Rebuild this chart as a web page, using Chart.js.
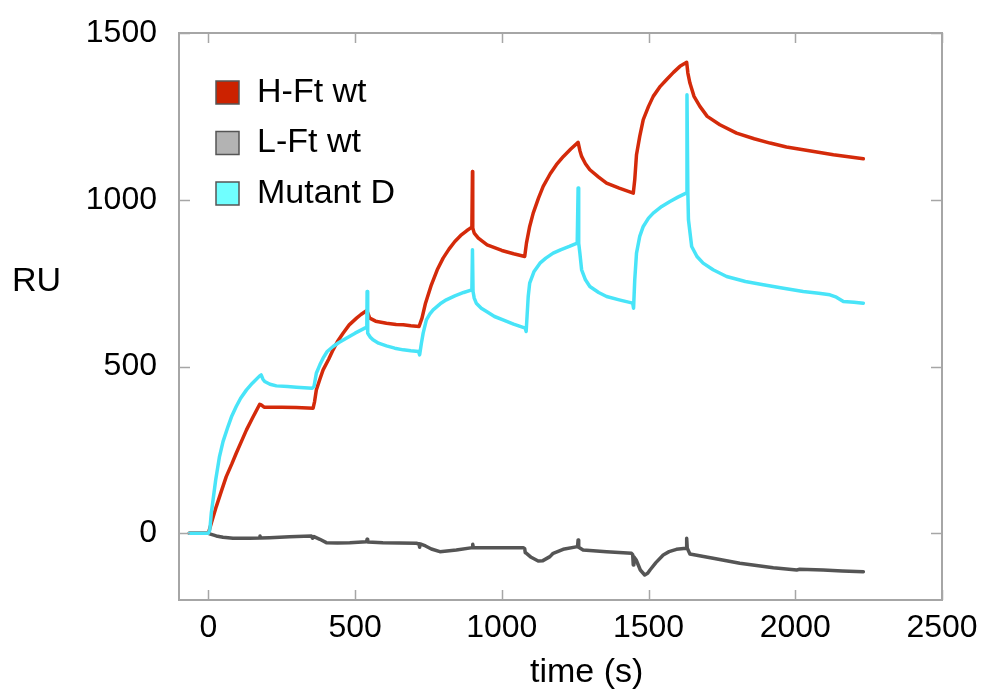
<!DOCTYPE html>
<html>
<head>
<meta charset="utf-8">
<script src="https://cdn.jsdelivr.net/npm/chart.js@4.4.1/dist/chart.umd.min.js"></script>
<style>
  html, body { margin: 0; padding: 0; background: #fff; }
  #wrap { width: 984px; height: 695px; }
</style>
</head>
<body>
<div id="wrap"><canvas id="chart" width="984" height="695"></canvas></div>
<script>
const X_TICKS = [0, 500, 1000, 1500, 2000, 2500];
const Y_TICKS = [0, 500, 1000, 1500];
const SERIES_NAMES = ['H-Ft wt', 'L-Ft wt', 'Mutant D'];
const LINE_COLORS = ['#d42a0a', '#555555', '#48e4f8'];
const BOX_COLORS = ['#cc2200', '#b3b3b3', '#70ffff'];

// H-Ft wt
const hftTime = [-65, 0, 10, 27, 45, 61, 80, 95, 115, 130, 150, 175, 180, 190, 250, 300, 357, 362, 368, 380, 391, 410, 425, 440, 459, 480, 505, 520, 535, 540, 550, 570, 607, 640, 664, 690, 718,
  728, 740, 760, 780, 800, 820, 840, 860, 880, 898, 900, 901, 906, 920, 950, 1000, 1040, 1078,
  1084, 1095, 1107, 1125, 1141, 1165, 1186, 1210, 1235, 1260, 1266, 1272, 1285, 1300, 1330, 1357, 1400, 1448,
  1453, 1459, 1470, 1482, 1500, 1516, 1540, 1561, 1585, 1607, 1630, 1634, 1641, 1655, 1675, 1700, 1743, 1800, 1860, 1914, 1970, 2027, 2130, 2232];
const hftRU = [0, 0, 30, 80, 128, 170, 208, 240, 280, 310, 345, 387, 385, 378, 378, 377, 375, 395, 430, 462, 490, 522, 550, 575, 600, 625, 645, 656, 665, 668, 645, 636, 630, 626, 625, 622, 620,
  645, 690, 745, 790, 825, 852, 875, 893, 907, 918, 1085, 915, 900, 885, 865, 848, 838, 830,
  870, 920, 960, 1005, 1040, 1078, 1105, 1130, 1152, 1172, 1148, 1130, 1108, 1090, 1068, 1050, 1035, 1020,
  1060, 1135, 1190, 1240, 1280, 1310, 1340, 1360, 1382, 1400, 1412, 1380, 1350, 1310, 1280, 1250, 1225, 1200, 1183, 1170, 1158, 1150, 1135, 1123];

// L-Ft wt
const lftTime = [-65, 0, 10, 27, 50, 84, 140, 175, 176, 178, 209, 277, 351, 355, 360, 380, 402, 440, 482, 539, 541, 543, 595, 650, 709, 718, 720, 722, 740, 760, 789, 845, 900, 901, 903, 993, 1073,
  1078, 1080, 1084, 1100, 1124, 1140, 1164, 1175, 1209, 1258, 1260, 1262, 1277, 1357, 1442, 1446, 1448, 1450, 1458, 1472, 1487, 1497, 1505, 1525, 1550, 1570, 1595, 1628, 1630, 1632, 1641, 1720, 1811, 1925, 2005, 2015, 2095, 2160, 2232];
const lftRU = [0, 0, -3, -8, -12, -15, -15, -14, -8, -14, -13, -10, -8, -15, -10, -18, -28, -29, -28, -25, -18, -26, -28, -29, -30, -32, -42, -32, -38, -47, -55, -50, -43, -33, -43, -43, -43,
  -46, -58, -60, -72, -83, -82, -70, -60, -48, -40, -20, -42, -50, -55, -60, -64, -95, -70, -80, -110, -125, -120, -110, -88, -65, -55, -48, -45, -15, -45, -62, -75, -90, -103, -110, -108, -110, -113, -115];

// Mutant D
const mutTime = [-65, 0, 5, 10, 16, 25, 38, 50, 67, 80, 95, 110, 130, 150, 175, 180, 186, 192, 210, 232, 270, 300, 354, 360, 368, 380, 391, 405, 425, 445, 470, 500, 533, 540, 541, 542, 544, 552, 561, 580, 607, 635, 664, 690, 716,
  720, 726, 732, 743, 755, 766, 790, 811, 840, 870, 898, 900, 902, 906, 913, 930, 948, 975, 1004, 1040, 1080,
  1083, 1086, 1090, 1095, 1110, 1130, 1150, 1175, 1200, 1230, 1257, 1260, 1262, 1266, 1272, 1285, 1300, 1330, 1357, 1400, 1446,
  1449, 1453, 1459, 1470, 1482, 1500, 1516, 1545, 1573, 1600, 1628, 1631, 1634, 1636, 1647, 1665, 1686, 1720, 1766, 1830, 1891, 1960, 2027, 2080, 2118, 2140, 2164, 2200, 2232];
const mutRU = [0, 0, 10, 60, 100, 160, 230, 275, 320, 352, 380, 405, 430, 450, 472, 475, 462, 455, 447, 442, 440, 438, 435, 440, 480, 505, 525, 545, 560, 572, 585, 600, 615, 618, 725, 615, 600, 588, 580, 570, 562, 555, 550, 547, 545,
  535, 570, 600, 640, 658, 670, 688, 700, 712, 722, 730, 850, 725, 705, 690, 675, 665, 650, 640, 627, 615,
  605, 650, 710, 750, 785, 810, 825, 840, 850, 860, 870, 1035, 870, 840, 790, 760, 740, 722, 710, 700, 690,
  675, 760, 840, 890, 920, 945, 960, 980, 995, 1008, 1020, 1315, 1020, 940, 860, 830, 810, 790, 770, 755, 745, 735, 725, 720, 715, 708, 695, 693, 690];

const toPoints = (xs, ys) => xs.map((x, i) => ({ x, y: ys[i] }));

const FONT = 'Liberation Sans, Arial, sans-serif';
const FRAME_COLOR = '#a6a6a6';

// frame, inward tick marks, axis titles and the legend box list
const decorPlugin = {
  id: 'decor',
  afterDraw(chart) {
    const { ctx, chartArea: a, scales: { x, y } } = chart;
    ctx.save();
    ctx.strokeStyle = FRAME_COLOR;
    ctx.lineWidth = 2;
    ctx.strokeRect(a.left, a.top, a.right - a.left, a.bottom - a.top);
    ctx.lineWidth = 1.5;
    ctx.beginPath();
    X_TICKS.forEach(v => {
      const px = Math.round(x.getPixelForValue(v)) + 0.5;
      ctx.moveTo(px, a.bottom); ctx.lineTo(px, a.bottom - 10);
      ctx.moveTo(px, a.top); ctx.lineTo(px, a.top + 10);
    });
    Y_TICKS.forEach(v => {
      const py = Math.round(y.getPixelForValue(v)) + 0.5;
      ctx.moveTo(a.left, py); ctx.lineTo(a.left + 11, py);
      ctx.moveTo(a.right, py); ctx.lineTo(a.right - 11, py);
    });
    ctx.stroke();

    ctx.fillStyle = '#000';
    ctx.font = `34px ${FONT}`;
    ctx.textBaseline = 'middle';
    ctx.textAlign = 'left';
    ctx.fillText('RU', 12, 282);
    ctx.fillText('time (s)', 530, 673);

    // legend
    SERIES_NAMES.forEach((name, i) => {
      const cy = 92.5 + i * 50.5;
      ctx.fillStyle = BOX_COLORS[i];
      ctx.fillRect(216, cy - 11.5, 23, 23);
      ctx.strokeStyle = '#555';
      ctx.lineWidth = 1.5;
      ctx.strokeRect(216, cy - 11.5, 23, 23);
      ctx.fillStyle = '#000';
      ctx.fillText(name, 257, cy);
    });
    ctx.restore();
  }
};

const lineDs = (i, pts, order) => ({
  label: SERIES_NAMES[i],
  data: pts,
  borderColor: LINE_COLORS[i],
  backgroundColor: LINE_COLORS[i],
  borderWidth: 3.5,
  pointRadius: 0,
  tension: 0,
  borderJoinStyle: 'round',
  borderCapStyle: 'round',
  order,
});

new Chart(document.getElementById('chart'), {
  type: 'line',
  data: {
    datasets: [
      lineDs(0, toPoints(hftTime, hftRU), 1),
      lineDs(1, toPoints(lftTime, lftRU), 2),
      lineDs(2, toPoints(mutTime, mutRU), 0),
    ],
  },
  options: {
    responsive: false,
    animation: false,
    devicePixelRatio: 1,
    layout: { padding: { top: 33, right: 42, left: 0, bottom: 0 } },
    plugins: { legend: { display: false }, tooltip: { enabled: false } },
    scales: {
      x: {
        type: 'linear',
        min: -100,
        max: 2500,
        afterBuildTicks: s => { s.ticks = X_TICKS.map(v => ({ value: v })); },
        afterFit: s => { s.height = 95; s.paddingLeft = 0; s.paddingRight = 0; },
        grid: { display: false, drawTicks: false },
        border: { display: false },
        ticks: {
          autoSkip: false, maxRotation: 0, padding: 9, color: '#000',
          font: { family: FONT, size: 32 },
          callback: v => String(v),
        },
      },
      y: {
        min: -200,
        max: 1500,
        afterBuildTicks: s => { s.ticks = Y_TICKS.map(v => ({ value: v })); },
        afterFit: s => { s.width = 179; s.paddingTop = 0; s.paddingBottom = 0; },
        grid: { display: false, drawTicks: false },
        border: { display: false },
        ticks: {
          padding: 22, color: '#000',
          font: { family: FONT, size: 32 },
          callback: v => String(v),
        },
      },
    },
  },
  plugins: [decorPlugin],
});
</script>
</body>
</html>
